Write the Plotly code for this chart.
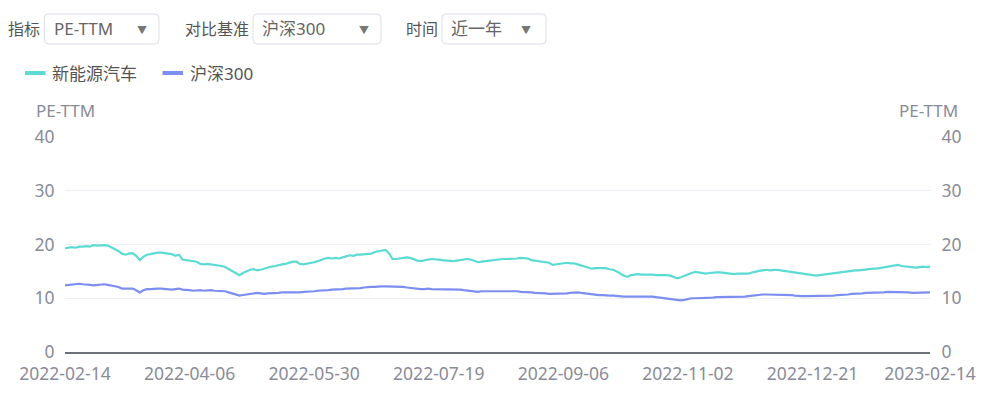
import pandas as pd
import plotly.graph_objects as go

# ---------------- data ----------------
start_date = "2022-02-14"
end_date = "2023-02-14"
market_holidays = ["2022-04-04", "2022-04-05", "2022-05-02", "2022-05-03", "2022-05-04",
                   "2022-06-03", "2022-09-12", "2022-10-03", "2022-10-04", "2022-10-05",
                   "2022-10-06", "2022-10-07", "2023-01-02", "2023-01-23", "2023-01-24",
                   "2023-01-25", "2023-01-26", "2023-01-27"]
tick_labels = ["2022-02-14", "2022-04-06", "2022-05-30", "2022-07-19",
               "2022-09-06", "2022-11-02", "2022-12-21", "2023-02-14"]
y_ticks = [0, 10, 20, 30, 40]

nev_pe = [
    19.3, 19.4, 19.5, 19.4, 19.6, 19.6, 19.7, 19.6, 19.9, 19.8,
    19.9, 19.9, 19.8, 19.5, 19.2, 18.8, 18.3, 18.1, 18.3, 18.4,
    17.9, 17.1, 17.7, 18.1, 18.2, 18.4, 18.5, 18.5, 18.4, 18.3,
    18.2, 17.9, 18.1, 17.2, 17.1, 17.0, 16.9, 16.8, 16.4, 16.3,
    16.4, 16.3, 16.3, 16.2, 16.0, 15.8, 15.4, 15.0, 14.7, 14.3,
    14.7, 15.0, 15.3, 15.4, 15.2, 15.3, 15.5, 15.8, 15.9, 16.0,
    16.2, 16.3, 16.4, 16.6, 16.8, 16.8, 16.4, 16.3, 16.4, 16.5,
    16.7, 16.9, 17.2, 17.4, 17.5, 17.4, 17.5, 17.4, 17.6, 17.8,
    18.0, 17.9, 18.1, 18.1, 18.2, 18.3, 18.3, 18.6, 18.7, 18.9,
    19.0, 18.4, 17.3, 17.3, 17.4, 17.4, 17.6, 17.5, 17.2, 17.0,
    16.9, 17.1, 17.2, 17.3, 17.3, 17.2, 17.1, 17.0, 17.0, 16.9,
    17.0, 17.1, 17.2, 17.3, 17.2, 17.0, 16.7, 16.8, 16.9, 17.0,
    17.1, 17.2, 17.2, 17.3, 17.3, 17.3, 17.4, 17.4, 17.5, 17.5,
    17.4, 17.1, 17.0, 16.9, 16.8, 16.8, 16.6, 16.2, 16.3, 16.4,
    16.5, 16.6, 16.5, 16.5, 16.3, 16.1, 15.9, 15.6, 15.5, 15.6,
    15.6, 15.5, 15.6, 15.4, 15.3, 15.0, 14.6, 14.2, 14.0, 14.3,
    14.4, 14.5, 14.4, 14.4, 14.5, 14.4, 14.3, 14.3, 14.4, 14.3,
    14.2, 14.0, 13.7, 13.9, 14.2, 14.4, 14.7, 14.9, 14.8, 14.7,
    14.6, 14.7, 14.8, 14.8, 14.8, 14.7, 14.6, 14.6, 14.5, 14.6,
    14.6, 14.7, 14.6, 14.8, 15.0, 15.1, 15.2, 15.3, 15.2, 15.3,
    15.3, 15.2, 15.1, 15.1, 15.0, 14.9, 14.8, 14.7, 14.6, 14.5,
    14.4, 14.2, 14.3, 14.4, 14.4, 14.5, 14.6, 14.7, 14.8, 14.9,
    15.0, 15.1, 15.2, 15.2, 15.3, 15.4, 15.4, 15.5, 15.5, 15.6,
    15.7, 15.8, 16.0, 16.1, 16.2, 16.0, 15.9, 15.8, 15.8, 15.7,
    15.8, 15.9, 15.8, 15.9,
]

hs300_pe = [
    12.4, 12.5, 12.5, 12.6, 12.7, 12.6, 12.6, 12.5, 12.4, 12.5,
    12.5, 12.6, 12.5, 12.4, 12.3, 12.1, 11.8, 11.8, 11.9, 11.8,
    11.5, 11.1, 11.5, 11.7, 11.7, 11.8, 11.8, 11.8, 11.7, 11.7,
    11.6, 11.7, 11.8, 11.6, 11.6, 11.5, 11.4, 11.5, 11.5, 11.4,
    11.5, 11.5, 11.4, 11.4, 11.3, 11.3, 11.1, 10.9, 10.7, 10.5,
    10.6, 10.7, 10.8, 10.9, 11.0, 10.9, 10.8, 10.9, 10.9, 11.0,
    11.0, 11.1, 11.1, 11.0, 11.1, 11.1, 11.1, 11.2, 11.2, 11.3,
    11.3, 11.4, 11.4, 11.5, 11.5, 11.6, 11.6, 11.7, 11.7, 11.8,
    11.8, 11.9, 11.9, 11.9, 12.0, 12.1, 12.1, 12.1, 12.2, 12.2,
    12.2, 12.2, 12.2, 12.2, 12.1, 12.1, 12.0, 11.9, 11.8, 11.7,
    11.7, 11.7, 11.8, 11.7, 11.7, 11.6, 11.7, 11.7, 11.6, 11.7,
    11.6, 11.6, 11.5, 11.4, 11.3, 11.2, 11.2, 11.3, 11.3, 11.3,
    11.3, 11.3, 11.4, 11.4, 11.4, 11.4, 11.3, 11.3, 11.2, 11.2,
    11.1, 11.1, 11.0, 11.0, 10.9, 10.9, 10.8, 10.8, 10.8, 10.8,
    10.9, 10.9, 11.0, 11.1, 11.1, 11.0, 10.9, 10.8, 10.7, 10.7,
    10.6, 10.6, 10.5, 10.5, 10.5, 10.4, 10.4, 10.3, 10.3, 10.3,
    10.4, 10.4, 10.4, 10.4, 10.3, 10.3, 10.2, 10.1, 10.0, 9.9,
    9.8, 9.7, 9.6, 9.6, 9.7, 9.9, 10.0, 10.0, 10.0, 10.1,
    10.1, 10.1, 10.1, 10.2, 10.2, 10.2, 10.2, 10.2, 10.3, 10.3,
    10.3, 10.3, 10.4, 10.5, 10.6, 10.6, 10.7, 10.7, 10.7, 10.7,
    10.7, 10.7, 10.7, 10.7, 10.6, 10.5, 10.4, 10.4, 10.4, 10.4,
    10.4, 10.4, 10.4, 10.4, 10.5, 10.5, 10.5, 10.6, 10.6, 10.7,
    10.7, 10.8, 10.8, 10.9, 10.9, 11.0, 11.0, 11.0, 11.1, 11.1,
    11.1, 11.2, 11.2, 11.2, 11.2, 11.2, 11.1, 11.1, 11.0, 11.0,
    11.1, 11.1, 11.1, 11.1,
]

series_names = ["新能源汽车", "沪深300"]
series_colors = ["#5CDAD4", "#7D8EF1"]

# trading-day categories
dates = [d.strftime("%Y-%m-%d") for d in
         pd.bdate_range(start_date, end_date, freq="C", holidays=market_holidays)]
n = min(len(dates), len(nev_pe), len(hs300_pe))
dates = dates[:n]

# ---------------- figure ----------------
OFF = 8  # page body margin
W, H = 1000 - OFF, 406 - OFF
L, R, T, B = 65 - OFF, 70, 137 - OFF, 54
PW, PH = W - L - R, H - T - B

def px(x):  # page pixel -> paper
    return (x - OFF - L) / PW

def py(y):
    return (T + PH - (y - OFF)) / PH

FONT = "Noto Sans, Noto Sans CJK SC, sans-serif"
AXIS_COLOR = "#8A8B99"

fig = go.Figure()
fig.add_trace(go.Scatter(x=dates, y=nev_pe[:n], name=series_names[0], mode="lines",
                         line=dict(color=series_colors[0], width=2.2), yaxis="y"))
fig.add_trace(go.Scatter(x=dates, y=hs300_pe[:n], name=series_names[1], mode="lines",
                         line=dict(color=series_colors[1], width=2.2), yaxis="y2"))

fig.update_layout(
    width=W, height=H,
    margin=dict(l=L, r=R, t=T, b=B, autoexpand=False),
    paper_bgcolor="white", plot_bgcolor="white",
    showlegend=False,
    font=dict(family=FONT, size=17, color=AXIS_COLOR),
    xaxis=dict(type="category", range=[0, n - 1], tickmode="array",
               tickvals=tick_labels, ticktext=tick_labels,
               showgrid=False, showline=True, linecolor="#6E7079", linewidth=2,
               ticks="outside", ticklen=5, tickcolor="rgba(0,0,0,0)",
               tickfont=dict(size=17.5, color=AXIS_COLOR), automargin=False,
               zeroline=False, fixedrange=True),
    yaxis=dict(range=[0, 40], tickvals=y_ticks, showgrid=True, gridcolor="#EDEFF4",
               gridwidth=1, zeroline=False, showline=False,
               ticks="outside", ticklen=6, tickcolor="rgba(0,0,0,0)",
               tickfont=dict(size=17.5, color=AXIS_COLOR), automargin=False),
    yaxis2=dict(range=[0, 40], tickvals=y_ticks, overlaying="y", side="right",
                showgrid=False, zeroline=False, showline=False,
                ticks="outside", ticklen=7, tickcolor="rgba(0,0,0,0)",
                tickfont=dict(size=17.5, color=AXIS_COLOR), automargin=False),
)

annotations = []
shapes = []

def text(x, y, s, size=16, color="#555", anchor="left"):
    annotations.append(dict(x=px(x), y=py(y), xref="paper", yref="paper", text=s,
                            showarrow=False, xanchor=anchor, yanchor="middle",
                            font=dict(family=FONT, size=size, color=color),
                            borderpad=0))

def rounded_box(x0, y0, x1, y1, r=4):
    X0, X1 = px(x0), px(x1)
    Y0, Y1 = py(y1), py(y0)  # bottom, top in paper
    rx, ry = r / PW, r / PH
    path = (f"M {X0+rx},{Y0} L {X1-rx},{Y0} Q {X1},{Y0} {X1},{Y0+ry} "
            f"L {X1},{Y1-ry} Q {X1},{Y1} {X1-rx},{Y1} L {X0+rx},{Y1} "
            f"Q {X0},{Y1} {X0},{Y1-ry} L {X0},{Y0+ry} Q {X0},{Y0} {X0+rx},{Y0} Z")
    shapes.append(dict(type="path", path=path, xref="paper", yref="paper",
                       line=dict(color="#DCDFE6", width=1), fillcolor="white",
                       layer="below"))

# top controls
ctrl_y = 29
controls = [("指标", 7, 44.5, 159, "PE-TTM", 142),
            ("对比基准", 184, 253, 381, "沪深300", 364),
            ("时间", 405, 442, 546, "近一年", 526)]
for label, lx, bx0, bx1, val, ax in controls:
    text(lx, ctrl_y, label, size=16, color="#555")
    rounded_box(bx0, 14, bx1, 44)
    text(bx0 + 8, ctrl_y, val, size=17, color="#666")
    text(ax, ctrl_y + 1, "▼", size=10, color="#777", anchor="center")

# legend
leg_y = 73
legend_items = [(25, 45.5, 51), (162.5, 183, 189)]
for (l0, l1, tx), name, col in zip(legend_items, series_names, series_colors):
    shapes.append(dict(type="line", xref="paper", yref="paper",
                       x0=px(l0), x1=px(l1), y0=py(leg_y), y1=py(leg_y),
                       line=dict(color=col, width=4)))
    text(tx, leg_y, name, size=17, color="#555")

# axis titles
text(65, 111, "PE-TTM", size=17, color=AXIS_COLOR, anchor="center")
text(928, 111, "PE-TTM", size=17, color=AXIS_COLOR, anchor="center")

fig.update_layout(annotations=annotations, shapes=shapes)
fig.write_html("out.html")
